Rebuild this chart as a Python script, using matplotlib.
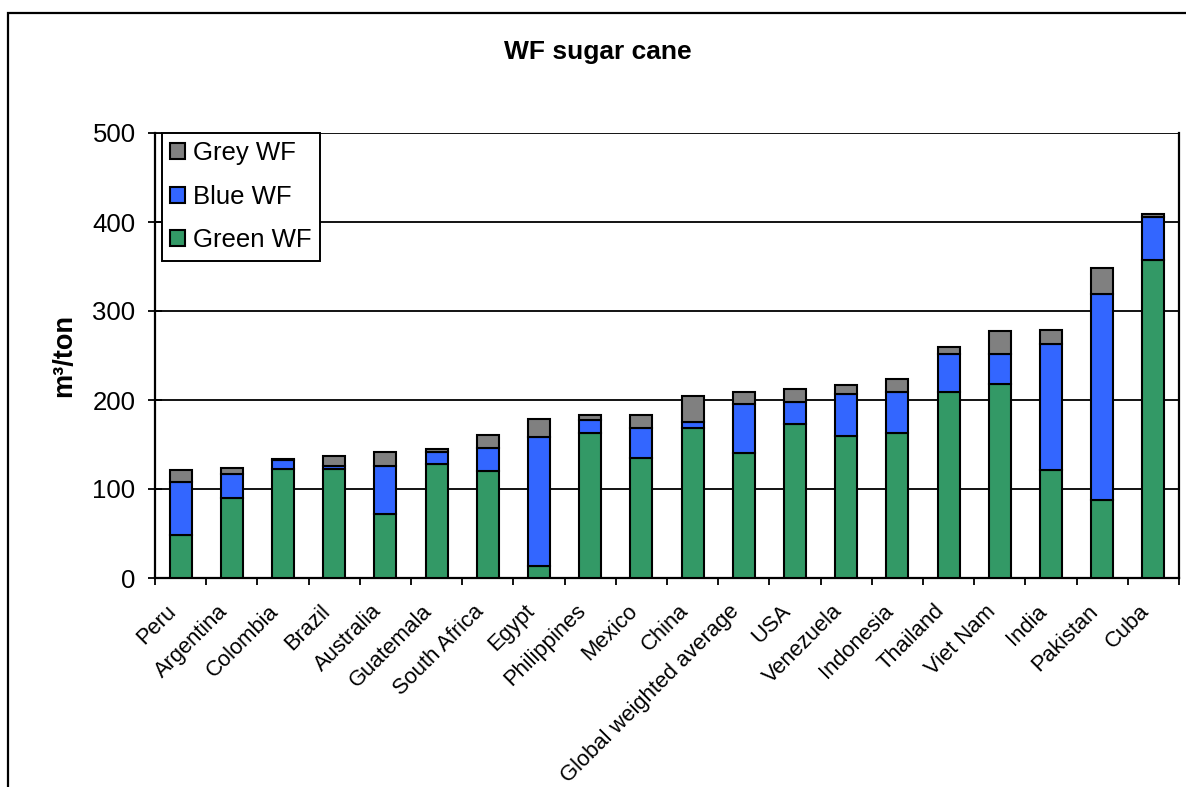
import matplotlib.pyplot as plt
from matplotlib.patches import Rectangle
import numpy as np

plt.rcParams['font.family'] = ['Liberation Sans', 'DejaVu Sans']

paises = ["Peru", "Argentina", "Colombia", "Brazil", "Australia", "Guatemala",
          "South Africa", "Egypt", "Philippines", "Mexico", "China",
          "Global weighted average", "USA", "Venezuela", "Indonesia",
          "Thailand", "Viet Nam", "India", "Pakistan", "Cuba"]

# m3/ton
green_wf = [48, 90, 123, 122, 72, 128, 120, 14, 162.5, 135, 169,
            140, 173.5, 160, 162.5, 209, 218, 121.5, 88, 357.5]
blue_wf = [60, 27, 10, 4, 54, 13.5, 26.5, 144, 15.5, 34, 6.5,
           55.5, 24.5, 46.5, 47, 43, 33.5, 141.5, 231.5, 48.5]
grey_wf = [13, 7, 0.5, 11, 16, 3, 14, 20.5, 5, 14, 29.5,
           14, 14, 10, 14, 7, 25.5, 16, 29, 3]

y_ticks = [0, 100, 200, 300, 400, 500]

fig = plt.figure(figsize=(11.86, 7.87), dpi=100)
ax = fig.add_axes([155 / 1186, 1 - 578 / 787, 1024 / 1186, 445 / 787])

# marco exterior de la figura
fig.patches.append(Rectangle((8 / 1186, -0.1), 1.2, 1.1 - 13 / 787,
                             transform=fig.transFigure, fill=False,
                             edgecolor="black", linewidth=1.6))

x = np.arange(len(paises))
ancho = 0.43
green = np.array(green_wf)
blue = np.array(blue_wf)
grey = np.array(grey_wf)

b1 = ax.bar(x, green, ancho, color="#339966", edgecolor="black", linewidth=1.5,
            label="Green WF", zorder=3)
b2 = ax.bar(x, blue, ancho, bottom=green, color="#3366FF", edgecolor="black",
            linewidth=1.5, label="Blue WF", zorder=3)
b3 = ax.bar(x, grey, ancho, bottom=green + blue, color="#808080", edgecolor="black",
            linewidth=1.5, label="Grey WF", zorder=3)

ax.set_xlim(-0.5, len(paises) - 0.5)
ax.set_ylim(0, 500)
ax.set_yticks(y_ticks)
ax.yaxis.grid(True, color="black", linewidth=1.3, zorder=0)
ax.set_axisbelow(True)

ax.set_xticks(x)
ax.set_xticklabels(paises, rotation=45, ha="right", va="bottom",
                   rotation_mode="anchor", fontsize=15.8)
ax.set_xticks(np.arange(-0.5, len(paises)), minor=True)
ax.tick_params(axis="x", which="major", length=0, pad=27)
ax.tick_params(axis="x", which="minor", length=5, width=1.3, direction="out")
ax.tick_params(axis="y", length=10, width=1.3, direction="inout", labelsize=18.5, pad=9)

for lado in ["left", "bottom", "right"]:
    ax.spines[lado].set_linewidth(1.6)
ax.spines["top"].set_visible(False)

ax.set_ylabel("m³/ton", fontsize=19.5, fontweight="bold", labelpad=11)
fig.text(598 / 1186, 1 - 52 / 787, "WF sugar cane", fontsize=19,
         fontweight="bold", ha="center", va="center")

leg = ax.legend(handles=[b3, b2, b1], loc="upper left",
                bbox_to_anchor=(0.0065, 1.0), borderaxespad=0, fontsize=18.5,
                fancybox=False, framealpha=1, edgecolor="black",
                handlelength=0.6, handleheight=0.6, handletextpad=0.3,
                labelspacing=0.76, borderpad=0.32)
leg.get_frame().set_linewidth(1.4)

fig.savefig("out.png", dpi=100)
